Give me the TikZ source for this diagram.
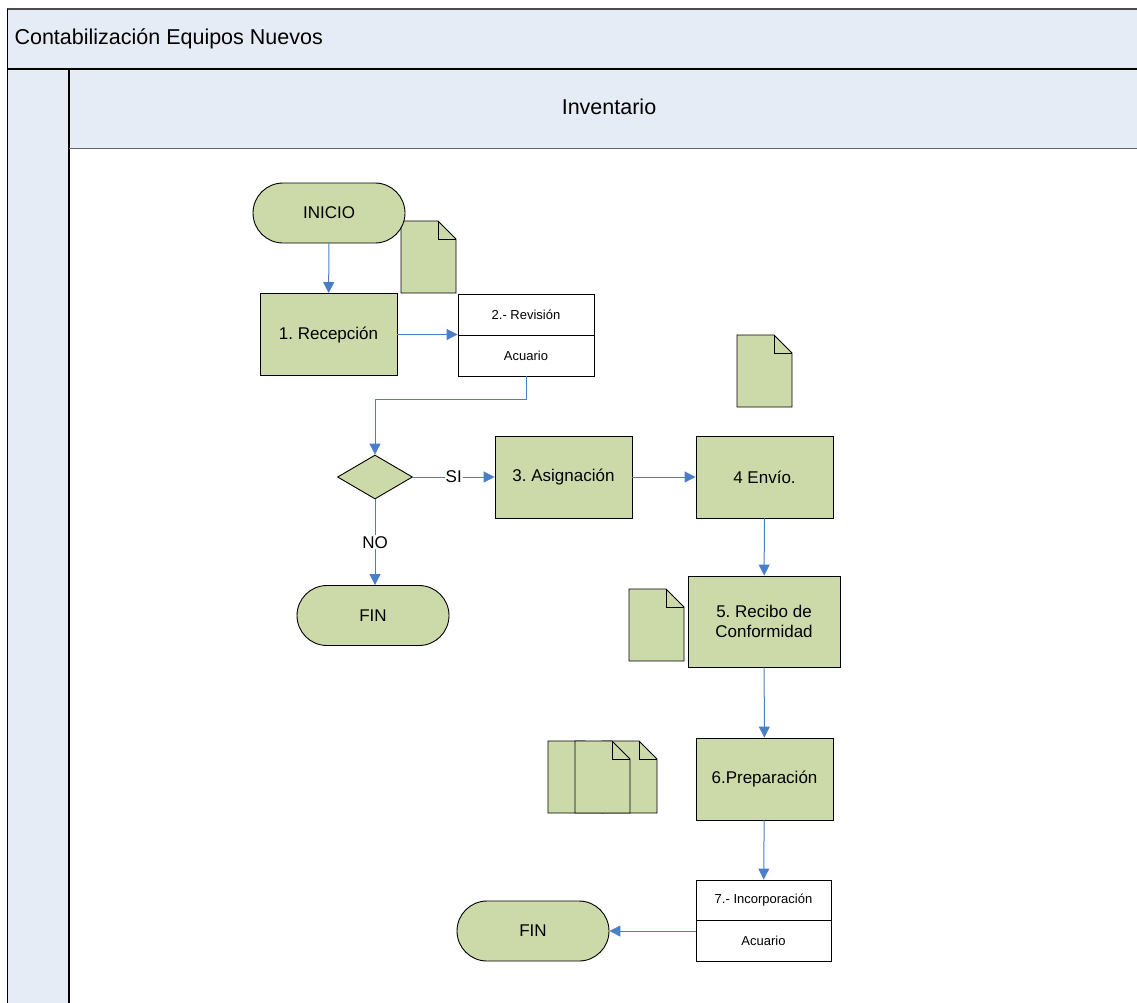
\documentclass[tikz,border=0pt]{standalone}
\usepackage{fontspec}
\setmainfont{Liberation Sans}
\usepackage{tikz}
\usetikzlibrary{arrows.meta,shapes.geometric}
\frenchspacing
\definecolor{laneblue}{HTML}{E6ECF6}
\definecolor{boxgreen}{HTML}{CCDAAA}
\definecolor{flowblue}{HTML}{4A7EC8}
\tikzset{>/.tip={Triangle[length=11pt,width=11pt]}}
\tikzset{
  proc/.style={draw=black, fill=boxgreen, line width=0.9pt, minimum width=137pt, minimum height=82pt, inner sep=0pt, align=center, font=\fontsize{17}{20}\selectfont},
  term/.style={draw=black, fill=boxgreen, line width=0.9pt, rounded corners=30pt, minimum width=152pt, minimum height=60pt, inner sep=0pt, font=\fontsize{17}{20}\selectfont},
  cell/.style={draw=black, fill=white, line width=0.9pt, minimum width=136pt, minimum height=41pt, inner sep=0pt, font=\fontsize{13}{15}\selectfont},
  dec/.style={draw=black, fill=boxgreen, line width=0.9pt, diamond, minimum width=75pt, minimum height=44pt, inner sep=0pt},
  flow/.style={draw=flowblue, line width=1pt, ->},
  tag/.style={fill=white, inner sep=1pt, font=\fontsize{17}{20}\selectfont},
  docfill/.style={draw=black, fill=boxgreen, line width=0.9pt}
}
\newcommand{\docu}[2]{%
  \filldraw[docfill] (#1) -- ++(37,0) -- ++(18,18) -- ++(0,54) -- ++(-55,0) -- cycle;
  \draw[docfill, fill=none] (#1) ++(37,0) -- ++(0,18) -- ++(18,0);}

\begin{document}
\begin{tikzpicture}[x=1pt, y=-1pt]
\useasboundingbox (0,0) rectangle (1137,1002);
\clip (0,0) rectangle (1137,1002);

\fill[laneblue] (7,9) rectangle (1140,69);
\fill[laneblue] (7,69) rectangle (69,1005);
\fill[laneblue] (69,69) rectangle (1140,148);
\draw[black!70, line width=1.5pt] (7,9) -- (1140,9);
\draw[line width=2pt] (7,69) -- (1140,69);
\draw[line width=1pt] (7,9) -- (7,1005);
\draw[line width=1.2pt] (69,69) -- (69,1005);
\draw[black!60, line width=1pt] (69,148) -- (1140,148);
\node[anchor=west, font=\fontsize{21.5}{25}\selectfont] (title) at (11,39) {Contabilización Equipos Nuevos};
\node[font=\fontsize{21.5}{25}\selectfont] (lane) at (609,107) {Inventario};

\coordinate (d1) at (401,221);
\coordinate (d2) at (737,335);
\coordinate (d3) at (629,589);
\coordinate (d4) at (548,741);
\coordinate (d5) at (602,741);
\coordinate (d6) at (575,741);
\docu{d1}{}
\docu{d2}{}
\docu{d3}{}
\docu{d4}{}
\docu{d5}{}
\docu{d6}{}

\node[term] (inicio) at (329,213) {INICIO};
\node[proc] (recep) at (328.5,334.5) {1. Recepción};
\node[cell] (rev) at (526,314.5) {2.- Revisión};
\node[cell] (revb) at (526,355.5) {Acuario};
\node[dec] (dec) at (375,477) {};
\node[proc] (asig) at (563.5,477) {3. Asignación};
\node[proc] (envio) at (764.5,477) {4 Envío.};
\node[term] (fin1) at (373,615.5) {FIN};
\node[proc, minimum width=152pt, minimum height=91pt] (recibo) at (764,621.5) {5. Recibo de\\Conformidad};
\node[proc] (prep) at (764.5,779) {6.Preparación};
\node[cell, minimum width=135pt, minimum height=40.5pt] (inc) at (763.5,900.25) {7.- Incorporación};
\node[cell, minimum width=135pt, minimum height=40.5pt] (incb) at (763.5,940.75) {Acuario};
\node[term] (fin2) at (533,931) {FIN};

\draw[flow] (inicio) to (recep);
\draw[flow] (recep.east) to (recep.east -| rev.west);
\draw[flow] (revb.south) -- ++(0,23) -| (dec.north);
\draw[flow] (dec.east) to node[tag] {SI} (asig.west);
\draw[flow] (dec.south) to node[tag] {NO} (dec.south |- fin1.north);
\draw[flow] (asig) to (envio);
\draw[flow] (envio) to (recibo);
\draw[flow] (recibo) to (prep);
\draw[flow] (prep) to (inc);
\draw[flow] (fin2.east -| incb.west) to (fin2.east);
\end{tikzpicture}
\end{document}
